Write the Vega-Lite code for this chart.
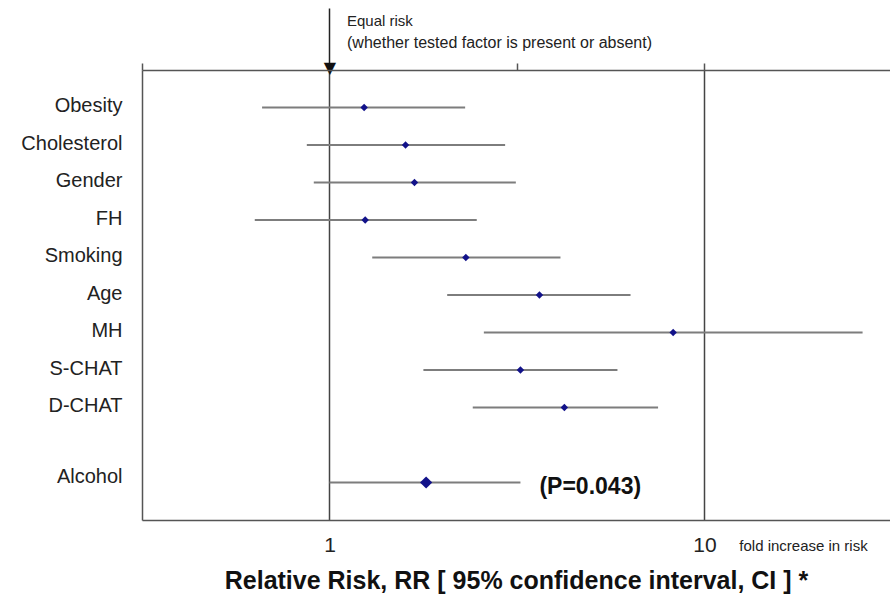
{
  "$schema": "https://vega.github.io/schema/vega-lite/v6.json",
  "width": 748,
  "height": 450,
  "autosize": {"type": "none"},
  "padding": {"left": 142, "top": 70, "right": 0, "bottom": 80},
  "background": "white",
  "config": {"view": {"stroke": null}, "font": "Liberation Sans"},
  "title": {
    "text": "Equal risk",
    "subtitle": "(whether tested factor is present or absent)",
    "anchor": "start",
    "frame": "group",
    "dx": 205,
    "offset": -44,
    "fontSize": 15,
    "fontWeight": "normal",
    "subtitleFontSize": 16,
    "subtitlePadding": 6,
    "color": "#222",
    "subtitleColor": "#222",
    "font": "Liberation Sans",
    "subtitleFont": "Liberation Sans"
  },
  "data": {
    "values": [
      {"factor": "Obesity", "lo": 0.661, "rr": 1.237, "hi": 2.30},
      {"factor": "Cholesterol", "lo": 0.870, "rr": 1.595, "hi": 2.94},
      {"factor": "Gender", "lo": 0.908, "rr": 1.685, "hi": 3.14},
      {"factor": "FH", "lo": 0.632, "rr": 1.245, "hi": 2.47},
      {"factor": "Smoking", "lo": 1.30, "rr": 2.31, "hi": 4.13},
      {"factor": "Age", "lo": 2.06, "rr": 3.63, "hi": 6.35},
      {"factor": "MH", "lo": 2.58, "rr": 8.25, "hi": 26.4},
      {"factor": "S-CHAT", "lo": 1.78, "rr": 3.23, "hi": 5.86},
      {"factor": "D-CHAT", "lo": 2.41, "rr": 4.23, "hi": 7.52},
      {"factor": "Alcohol", "lo": 1.00, "rr": 1.81, "hi": 3.23, "note": "(P=0.043)"}
    ]
  },
  "layer": [
    {
      "mark": {"type": "rule", "color": "#7d7d7d", "strokeWidth": 2},
      "encoding": {
        "y": {
          "field": "factor",
          "type": "nominal",
          "scale": {
            "type": "point",
            "padding": 1,
            "domain": ["Obesity", "Cholesterol", "Gender", "FH", "Smoking", "Age", "MH", "S-CHAT", "D-CHAT", " ", "Alcohol"]
          },
          "axis": {
            "title": null,
            "ticks": false,
            "labelFontSize": 20,
            "labelPadding": 20,
            "labelColor": "#222",
            "labelFont": "Liberation Sans",
            "labelOffset": {"condition": {"test": "datum.value === 'Alcohol'", "value": -6}, "value": -2},
            "domainColor": "#555",
            "domainWidth": 1.5,
            "grid": false
          }
        },
        "x": {
          "field": "lo",
          "type": "quantitative",
          "scale": {"type": "log", "domain": [0.31623, 31.24], "nice": false},
          "axis": {
            "orient": "bottom",
            "values": [1, 10, 18.31],
            "labelExpr": "datum.value > 15 ? 'fold increase in risk' : datum.label",
            "labelFontSize": {"condition": {"test": "datum.value > 15", "value": 15}, "value": 21},
            "labelBaseline": "middle",
            "labelPadding": 25,
            "labelOverlap": false,
            "labelFlush": false,
            "labelBound": false,
            "labelColor": "#222",
            "labelFont": "Liberation Sans",
            "ticks": false,
            "grid": true,
            "gridColor": "#444",
            "gridWidth": 1.5,
            "gridOpacity": {"condition": {"test": "datum.value > 15", "value": 0}, "value": 1},
            "domainColor": "#555",
            "domainWidth": 1.5,
            "title": "Relative Risk, RR [ 95% confidence interval, CI ] *",
            "titleFontSize": 25,
            "titleFontWeight": "bold",
            "titleFont": "Liberation Sans",
            "titleColor": "#111",
            "titlePadding": 13
          }
        },
        "x2": {"field": "hi"}
      }
    },
    {
      "mark": {"type": "point", "shape": "diamond", "filled": true, "color": "#12128a", "opacity": 1},
      "encoding": {
        "y": {"field": "factor", "type": "nominal"},
        "x": {
          "field": "rr",
          "type": "quantitative",
          "scale": {"type": "log", "domain": [0.31623, 31.24], "nice": false},
          "axis": {
            "orient": "top",
            "title": null,
            "values": [0.31623, 1, 3.1623, 10],
            "grid": false,
            "labelExpr": "datum.value == 1 ? '▼' : ''",
            "labelFontSize": 16,
            "labelFont": "DejaVu Sans",
            "labelPadding": -67,
            "labelOverlap": false,
            "labelFlush": false,
            "labelBound": false,
            "labelColor": "#111",
            "tickSize": {"condition": {"test": "datum.value == 1", "value": 62}, "value": 7},
            "tickColor": {"condition": {"test": "datum.value == 1", "value": "#222"}, "value": "#555"},
            "tickWidth": 1.5,
            "domainColor": "#555",
            "domainWidth": 1.5
          }
        },
        "size": {"condition": {"test": "datum.factor === 'Alcohol'", "value": 150}, "value": 55}
      }
    },
    {
      "transform": [{"filter": "isValid(datum.note)"}],
      "mark": {"type": "text", "align": "left", "baseline": "middle", "dx": 19, "dy": 4, "fontSize": 23, "fontWeight": "bold", "font": "Liberation Sans", "color": "#111"},
      "encoding": {
        "y": {"field": "factor", "type": "nominal"},
        "x": {
          "field": "hi",
          "type": "quantitative",
          "scale": {"type": "log", "domain": [0.31623, 31.24], "nice": false},
          "axis": null
        },
        "text": {"field": "note"}
      }
    }
  ],
  "resolve": {"scale": {"x": "independent"}, "axis": {"x": "independent"}}
}
